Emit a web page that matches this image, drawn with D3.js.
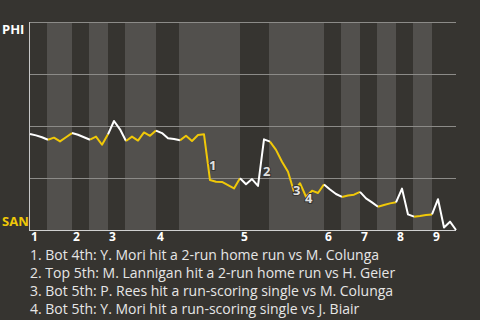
<!DOCTYPE html>
<html>
<head>
<meta charset="utf-8">
<script src="https://cdn.jsdelivr.net/npm/d3@7"></script>
<style>
  html, body { margin: 0; padding: 0; background: #363430; }
  svg { display: block; font-family: "Open Sans", Roboto, sans-serif; }
</style>
</head>
<body>
<div id="chart"></div>
<script>
// plate appearances per half inning (top 1, bot 1, top 2, ... top 9)
var halfInningPAs = [3, 4, 3, 3, 3, 5, 4, 10, 5, 9, 3, 3, 3, 3, 3, 3, 4];
var inningLabels = ["1", "2", "3", "4", "5", "6", "7", "8", "9"];

// SAN win probability (%) after each plate appearance
var sanWinProb = [
    53.8, 54.5, 55.4, 56.6, 55.6, 57.4, 55.4, 53.4, 54.2, 55.4,
    56.6, 55.1, 59.0, 54.0, 47.6, 51.6, 57.2, 55.1, 57.0, 53.1,
    54.7, 52.2, 53.4, 55.9, 56.3, 56.9, 54.7, 57.2, 54.3, 54.0,
    76.0, 76.8, 76.9, 78.4, 80.0, 75.1, 78.0, 75.5, 78.8, 56.4,
    57.5, 61.5, 67.2, 72.0, 81.6, 77.5, 84.0, 81.1, 82.2, 78.1,
    80.5, 82.7, 84.1, 83.4, 83.0, 81.7, 84.8, 86.7, 88.8, 88.0,
    87.2, 86.7, 80.1, 92.5, 93.6, 93.3, 92.8, 92.5, 85.2, 98.8,
    96.0, 100
];

// big plays: index of the plate appearance that ends the jump
var keyPlays = [30, 39, 44, 46];
var keyPlayTexts = [
    "1. Bot 4th: Y. Mori hit a 2-run home run vs M. Colunga",
    "2. Top 5th: M. Lannigan hit a 2-run home run vs H. Geier",
    "3. Bot 5th: P. Rees hit a run-scoring single vs M. Colunga",
    "4. Bot 5th: Y. Mori hit a run-scoring single vs J. Biair"
];

var width = 480, height = 320;
var margin = {top: 22, right: 24, bottom: 90, left: 30};

var svg = d3.select("#chart").append("svg")
    .attr("width", width)
    .attr("height", height);

var x = d3.scaleLinear()
    .domain([0, d3.sum(halfInningPAs)])
    .range([margin.left, width - margin.right]);
var y = d3.scaleLinear()
    .domain([0, 100])
    .range([margin.top, height - margin.bottom]);

// half inning start / end positions
var halves = [];
var pos = 0;
halfInningPAs.forEach(function(n, i) {
    halves.push({start: pos, end: pos + n, top: i % 2 == 0, inning: Math.floor(i / 2)});
    pos += n;
});

// light bands for bottom halves
svg.append("g").selectAll("rect")
    .data(halves.filter(function(d) { return !d.top; }))
    .enter()
    .append("rect")
    .attr("x", function(d) { return x(d.start) - 1; })
    .attr("y", y(0))
    .attr("width", function(d) { return x(d.end) - x(d.start) + 1; })
    .attr("height", y(100) - y(0))
    .attr("fill", "#52504d");

// grid lines
svg.append("g").selectAll("line")
    .data([0, 25, 50, 75])
    .enter()
    .append("line")
    .attr("x1", x(0))
    .attr("x2", x.range()[1])
    .attr("y1", function(d) { return Math.round(y(d)) + 0.5; })
    .attr("y2", function(d) { return Math.round(y(d)) + 0.5; })
    .attr("stroke", "#8c8b88")
    .attr("stroke-width", 1);

// left and bottom axis lines
svg.append("line")
    .attr("x1", x(0) - 0.5).attr("x2", x(0) - 0.5)
    .attr("y1", y(0)).attr("y2", y(100) + 1)
    .attr("stroke", "#c8c8c8");
svg.append("line")
    .attr("x1", x(0) - 1).attr("x2", x.range()[1])
    .attr("y1", Math.round(y(100)) + 0.5).attr("y2", Math.round(y(100)) + 0.5)
    .attr("stroke", "#d0d0d0");

// team labels
svg.append("text")
    .attr("x", 2).attr("y", y(0) + 12)
    .attr("fill", "#ffffff")
    .style("font-size", "13px").style("font-weight", "bold")
    .text("PHI");
svg.append("text")
    .attr("x", 2).attr("y", y(100) - 4)
    .attr("fill", "#f0c808")
    .style("font-size", "13px").style("font-weight", "bold")
    .text("SAN");

// inning labels
svg.append("g").selectAll("text")
    .data(halves.filter(function(d) { return d.top; }))
    .enter()
    .append("text")
    .attr("x", function(d) { return x(d.start) + 1; })
    .attr("y", 241)
    .attr("fill", "#ffffff")
    .style("font-size", "12px").style("font-weight", "bold")
    .text(function(d) { return inningLabels[d.inning]; });

// win probability line, one path per half inning
var line = d3.line()
    .x(function(d) { return x(d); })
    .y(function(d) { return y(sanWinProb[d]); });

svg.append("g").selectAll("path")
    .data(halves)
    .enter()
    .append("path")
    .attr("d", function(d) { return line(d3.range(d.start, d.end + 1)); })
    .attr("fill", "none")
    .attr("stroke", function(d) { return d.top ? "#ffffff" : "#f0c808"; })
    .attr("stroke-width", 2)
    .attr("stroke-linejoin", "round");

// key play numbers next to their jumps
svg.append("g").selectAll("text")
    .data(keyPlays)
    .enter()
    .append("text")
    .attr("x", function(d) { return (x(d) + x(d - 1)) / 2 + 2; })
    .attr("y", function(d) { return (y(sanWinProb[d]) + y(sanWinProb[d - 1])) / 2 + 13; })
    .attr("fill", "#e0e0e0")
    .attr("stroke", "#363430")
    .attr("stroke-width", 2)
    .attr("paint-order", "stroke")
    .style("font-size", "13px").style("font-weight", "bold")
    .text(function(d, i) { return i + 1; });

// key play descriptions
svg.append("g").selectAll("text")
    .data(keyPlayTexts)
    .enter()
    .append("text")
    .attr("x", 30)
    .attr("y", function(d, i) { return 260 + i * 18; })
    .attr("fill", "#e6e6e6")
    .style("font-size", "14px")
    .text(function(d) { return d; });
</script>
</body>
</html>
